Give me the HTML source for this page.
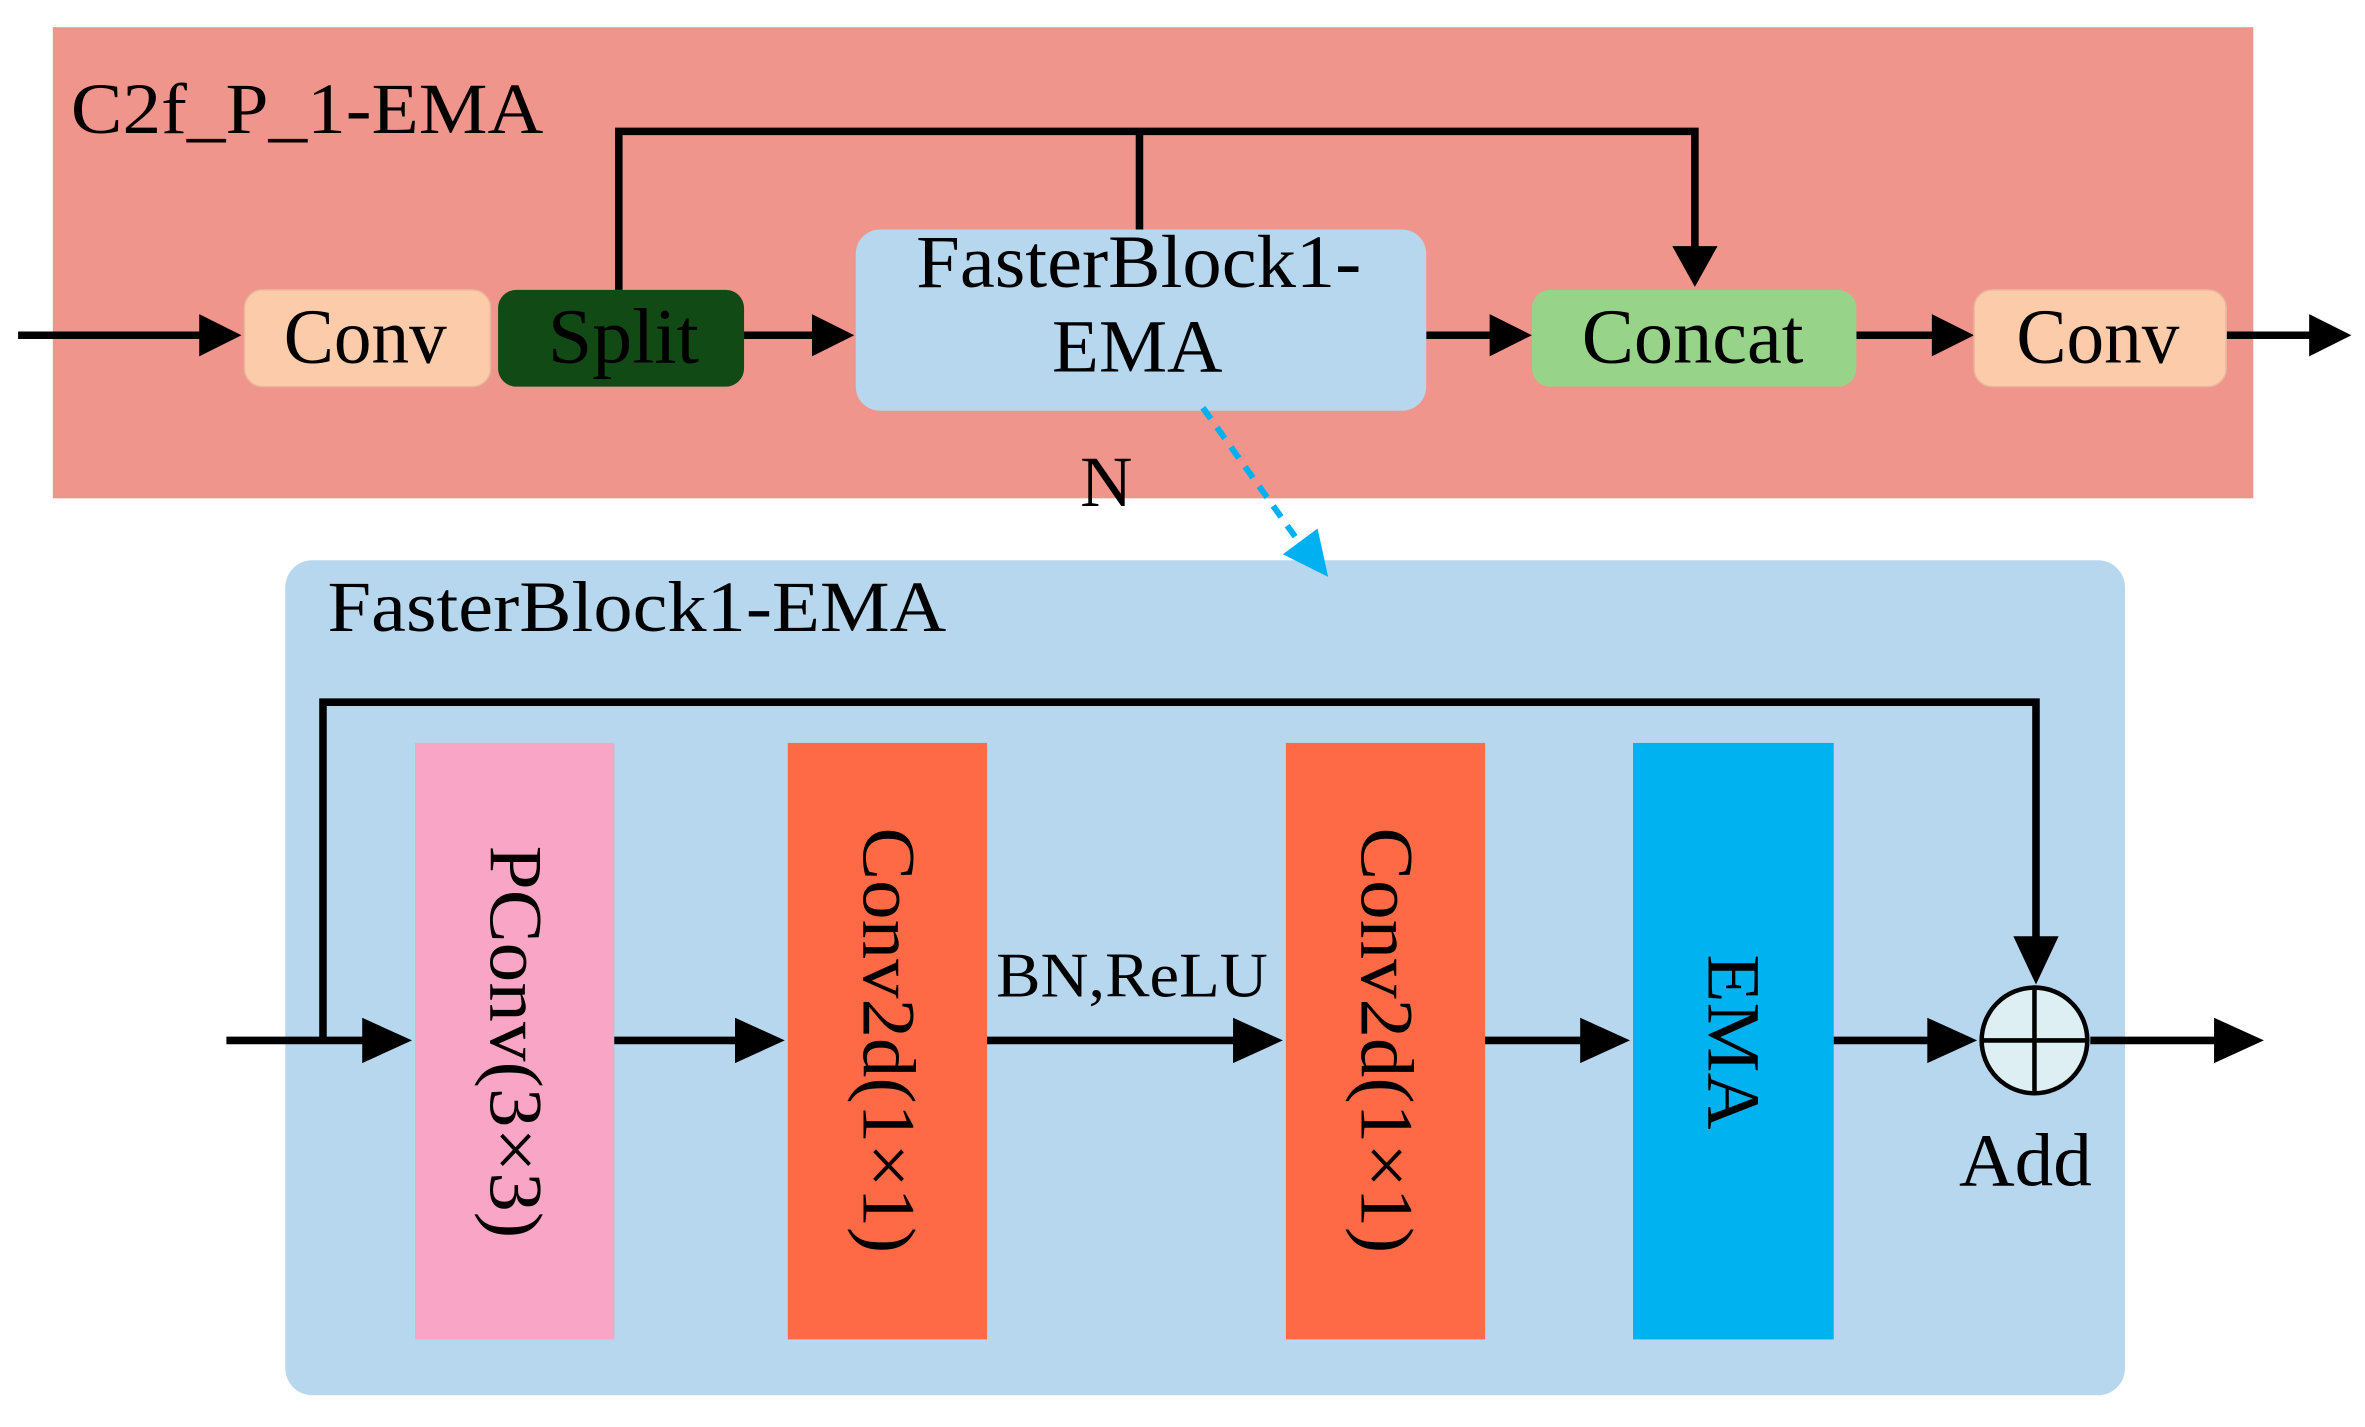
<!DOCTYPE html>
<html><head><style>html,body{margin:0;padding:0;background:#fff}svg{display:block}</style></head>
<body>
<svg width="2365" height="1427" viewBox="0 0 1567 945" preserveAspectRatio="none" xmlns="http://www.w3.org/2000/svg" font-family="Liberation Serif, serif">
<rect x="35" y="18" width="1458" height="312" fill="#F0958B"/>
<text x="47" y="88" font-size="48" textLength="313" lengthAdjust="spacingAndGlyphs">C2f_P_1-EMA</text>
<g stroke="#000" stroke-width="5" fill="none">
<polyline points="410,192 410,87 1123,87 1123,165"/>
<line x1="755" y1="87" x2="755" y2="152"/>
<line x1="12" y1="222" x2="135" y2="222"/>
<line x1="493" y1="222" x2="540" y2="222"/>
<line x1="945" y1="222" x2="990" y2="222"/>
<line x1="1230" y1="222" x2="1282" y2="222"/>
<line x1="1475" y1="222" x2="1532" y2="222"/>
</g>
<g fill="#000">
<path d="M1108,163 L1138,163 L1123,190z"/>
<path d="M132,208 L160,222 L132,236z"/>
<path d="M538,208 L566,222 L538,236z"/>
<path d="M987,208 L1015,222 L987,236z"/>
<path d="M1280,208 L1308,222 L1280,236z"/>
<path d="M1530,208 L1558,222 L1530,236z"/>
</g>
<rect x="162" y="192" width="163" height="64" rx="12" fill="#FBCBAA" stroke="#E8B89C"/>
<text x="188" y="240" font-size="52" textLength="108" lengthAdjust="spacingAndGlyphs">Conv</text>
<rect x="330" y="192" width="163" height="64" rx="12" fill="#114A15"/>
<text x="363" y="240" font-size="52" textLength="100" lengthAdjust="spacingAndGlyphs">Split</text>
<rect x="567" y="152" width="378" height="120" rx="16" fill="#B7D7EE"/>
<text x="607" y="190" font-size="50" textLength="295" lengthAdjust="spacingAndGlyphs">FasterBlock1-</text>
<text x="697" y="246" font-size="50" textLength="113" lengthAdjust="spacingAndGlyphs">EMA</text>
<rect x="1015" y="192" width="215" height="64" rx="12" fill="#98D38A"/>
<text x="1048" y="240" font-size="52" textLength="147" lengthAdjust="spacingAndGlyphs">Concat</text>
<rect x="1308" y="192" width="167" height="64" rx="12" fill="#FBCBAA" stroke="#E8B89C"/>
<text x="1336" y="240" font-size="52" textLength="108" lengthAdjust="spacingAndGlyphs">Conv</text>
<text x="733" y="335" font-size="48" text-anchor="middle">N</text>
<rect x="189" y="371" width="1219" height="553" rx="18" fill="#B7D7EE"/>
<line x1="797" y1="270" x2="860" y2="358" stroke="#00B0F0" stroke-width="4" stroke-dasharray="9,7"/>
<path d="M850,367 L873,350 L880,382z" fill="#00B0F0"/>
<text x="217" y="418" font-size="48" textLength="410" lengthAdjust="spacingAndGlyphs">FasterBlock1-EMA</text>
<rect x="275" y="492" width="132" height="395" fill="#F9A5C5"/>
<rect x="522" y="492" width="132" height="395" fill="#FD6A45"/>
<rect x="852" y="492" width="132" height="395" fill="#FD6A45"/>
<rect x="1082" y="492" width="133" height="395" fill="#00B3F0"/>
<g font-size="50">
<text transform="translate(325,560) rotate(90)" textLength="260" lengthAdjust="spacingAndGlyphs">PConv(3×3)</text>
<text transform="translate(572,548) rotate(90)" textLength="282" lengthAdjust="spacingAndGlyphs">Conv2d(1×1)</text>
<text transform="translate(902,548) rotate(90)" textLength="282" lengthAdjust="spacingAndGlyphs">Conv2d(1×1)</text>
<text transform="translate(1132,632) rotate(90)" textLength="116" lengthAdjust="spacingAndGlyphs">EMA</text>
</g>
<g stroke="#000" stroke-width="5" fill="none">
<polyline points="214,689 214,465 1349,465 1349,625"/>
<line x1="150" y1="689" x2="245" y2="689"/>
<line x1="407" y1="689" x2="492" y2="689"/>
<line x1="654" y1="689" x2="822" y2="689"/>
<line x1="984" y1="689" x2="1052" y2="689"/>
<line x1="1215" y1="689" x2="1282" y2="689"/>
<line x1="1385" y1="689" x2="1472" y2="689"/>
<circle cx="1348" cy="689" r="35" fill="#DDEFF3" stroke-width="3"/>
<line x1="1313" y1="689" x2="1383" y2="689" stroke-width="3"/>
<line x1="1348" y1="654" x2="1348" y2="724" stroke-width="3"/>
</g>
<g fill="#000">
<path d="M1334,620 L1364,620 L1349,652z"/>
<path d="M240,674 L273,689 L240,704z"/>
<path d="M487,674 L520,689 L487,704z"/>
<path d="M817,674 L850,689 L817,704z"/>
<path d="M1047,674 L1080,689 L1047,704z"/>
<path d="M1277,674 L1310,689 L1277,704z"/>
<path d="M1467,674 L1500,689 L1467,704z"/>
</g>
<text x="660" y="660" font-size="42" textLength="180" lengthAdjust="spacingAndGlyphs">BN,ReLU</text>
<text x="1298" y="785" font-size="50" textLength="88" lengthAdjust="spacingAndGlyphs">Add</text>
</svg>
</body></html>
